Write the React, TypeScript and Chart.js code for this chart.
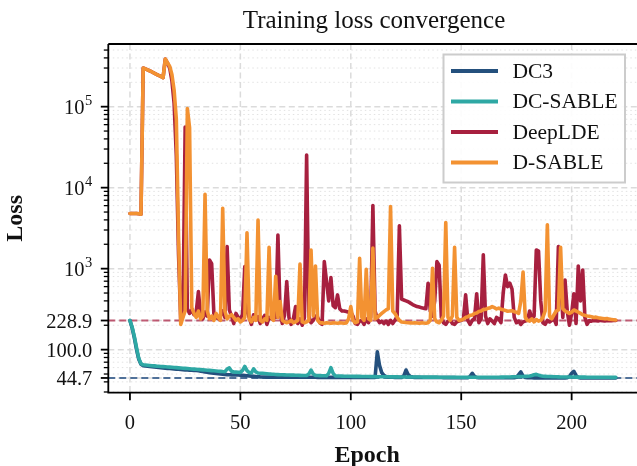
import React, { useEffect, useRef } from "react";
import { Chart, registerables } from "chart.js";

Chart.register(...registerables);

// ---------------- data ----------------
const epochs: number[] = Array.from({ length: 221 }, (_, i) => i);

const dc3: number[] = [
  229, 185, 140, 100, 76, 66, 63.5, 63, 62.5, 62,
  61.5, 61, 60.6, 60.2, 59.8, 59.4, 59, 58.7, 58.4, 58.1,
  57.8, 57.5, 57.2, 56.9, 56.6, 56.3, 56, 55.8, 55.6, 55.4,
  55.2, 54.8, 54.3, 53.7, 53.1, 52.5, 52, 51.5, 51, 50.7,
  50.4, 50.1, 49.8, 49.5, 49.2, 49, 48.8, 48.7, 48.6, 48.6,
  48.5, 48.3, 48, 47.7, 47.4, 47.1, 46.8, 46.5, 46.3, 46.1,
  46, 45.9, 45.8, 45.8, 45.8, 45.8, 45.8, 45.8, 45.8, 45.8,
  45.8, 45.8, 45.7, 45.7, 45.7, 45.7, 45.7, 45.7, 45.6, 45.6,
  45.6, 45.6, 45.6, 45.6, 45.6, 45.5, 45.5, 45.5, 45.5, 45.5,
  45.5, 45.5, 45.5, 45.4, 45.4, 45.4, 45.4, 45.4, 45.4, 45.4,
  45.4, 45.4, 45.3, 45.3, 45.3, 45.3, 45.3, 45.3, 45.3, 45.3,
  45.3, 45.4, 94, 64, 52, 48, 46.5, 46, 45.8, 45.6,
  45.5, 45.5, 45.4, 45.4, 47.5, 56, 49, 46.5, 45.8, 45.5,
  45.4, 45.4, 45.3, 45.3, 45.3, 45.3, 45.2, 45.2, 45.2, 45.2,
  45.2, 45.2, 45.1, 45.1, 45.1, 45.1, 45.1, 45.1, 45, 45,
  45, 45, 45, 45, 46.5, 51, 46.8, 45.3, 45, 45,
  45, 45, 44.9, 44.9, 44.9, 44.9, 44.9, 44.9, 44.9, 44.9,
  44.9, 44.9, 44.9, 44.9, 44.9, 45.5, 49, 53, 47, 45.2,
  44.9, 44.9, 44.9, 44.8, 44.8, 44.8, 44.8, 44.8, 44.8, 44.8,
  44.8, 44.8, 44.8, 44.8, 44.8, 44.8, 44.8, 44.8, 45, 46.5,
  51, 54, 48, 45.3, 44.8, 44.8, 44.8, 44.7, 44.7, 44.7,
  44.7, 44.7, 44.7, 44.7, 44.7, 44.7, 44.7, 44.7, 44.7, 44.7,
  44.7,
];

const dcSable: number[] = [
  229, 190, 145, 105, 78, 67, 65, 64.6, 64.2, 63.8,
  63.4, 63, 62.6, 62.3, 62, 61.7, 61.4, 61.1, 60.8, 60.5,
  60.2, 59.9, 59.6, 59.3, 59, 58.7, 58.4, 58.1, 57.8, 57.5,
  57.2, 56.9, 56.6, 56.3, 56, 55.7, 55.4, 55.1, 54.8, 54.5,
  54.2, 53.9, 53.6, 53.4, 57.5, 59.5, 54, 53, 52.8, 52.6,
  52.4, 55.5, 62, 55, 52, 51.8, 58, 53, 51.4, 51.2,
  51, 50.7, 50.4, 50.1, 49.8, 49.6, 49.4, 49.2, 49, 48.9,
  48.8, 48.7, 48.6, 48.5, 48.4, 48.3, 48.2, 48.1, 48, 48,
  48, 50, 56, 50, 48, 47.9, 47.8, 47.7, 47.6, 47.5,
  51, 60, 51, 47.4, 47.3, 47.2, 47.1, 47, 47, 46.9,
  46.9, 46.8, 46.8, 46.7, 46.7, 46.6, 46.6, 46.5, 46.5, 46.4,
  46.4, 46.4, 46.3, 46.3, 46.3, 46.2, 46.2, 46.2, 46.1, 46.1,
  46.1, 46.1, 46, 46, 46, 46, 46, 45.9, 45.9, 45.9,
  45.9, 45.9, 45.9, 45.8, 45.8, 45.8, 45.8, 45.8, 45.8, 45.8,
  45.7, 45.7, 45.7, 45.7, 45.7, 45.7, 45.7, 45.7, 45.7, 45.7,
  45.7, 45.7, 45.7, 45.7, 45.7, 45.7, 45.7, 45.7, 45.7, 45.7,
  45.7, 45.7, 45.7, 45.7, 45.7, 45.7, 45.7, 45.7, 45.8, 45.8,
  45.9, 46, 46, 46.1, 46.2, 46.3, 46.4, 46.5, 46.6, 46.8,
  47, 47.3, 48, 49, 49.5, 48.5, 47.5, 47, 46.8, 46.6,
  46.5, 46.4, 46.3, 46.2, 46.1, 46, 46, 46, 45.9, 45.9,
  45.9, 45.9, 45.8, 45.8, 45.8, 45.8, 45.8, 45.7, 45.7, 45.7,
  45.7, 45.7, 45.7, 45.6, 45.6, 45.6, 45.6, 45.6, 45.5, 45.5,
  45.5,
];

const deepLDE: number[] = [
  4800, 4800, 4800, 4800, 4750, 4700, 300000, 293000, 285000, 276000,
  268000, 259000, 251000, 243000, 236000, 228000, 388000, 345000, 300000, 210000,
  110000, 25000, 1500, 230, 260, 56000, 320, 280, 310, 270,
  290, 520, 270, 240, 290, 260, 1280, 1150, 280, 250,
  240, 265, 300, 250, 1870, 310, 260, 210, 280, 250,
  240, 270, 1060, 300, 250, 205, 270, 240, 255, 210,
  240, 265, 205, 250, 240, 300, 250, 2600, 280, 210,
  265, 692, 250, 205, 240, 340, 210, 240, 200, 250,
  25300, 260, 215, 230, 260, 250, 215, 205, 1220, 700,
  400, 776, 350, 330, 474, 320, 300, 300, 295, 290,
  290, 260, 210, 205, 225, 230, 205, 240, 215, 250,
  6000, 300, 240, 215, 225, 210, 225, 205, 230, 210,
  230, 260, 3370, 420, 410, 400, 390, 375, 360, 350,
  340, 335, 330, 325, 320, 660, 300, 260, 400, 1220,
  1100, 250, 215, 205, 225, 230, 210, 205, 220, 225,
  230, 240, 474, 230, 205, 230, 240, 490, 215, 240,
  1480, 260, 210, 240, 225, 210, 250, 240, 215, 500,
  836, 600, 660, 560, 250, 215, 225, 205, 220, 225,
  230, 300, 240, 260, 1700, 1650, 400, 215, 205, 230,
  220, 230, 240, 205, 1870, 700, 250, 725, 300, 200,
  280, 490, 210, 1080, 400, 964, 250, 205, 228, 225,
  230, 228, 226, 230, 228, 226, 229, 227, 228, 229,
  229,
];

const dSable: number[] = [
  4800, 4800, 4800, 4800, 4750, 4700, 300000, 293000, 285000, 276000,
  268000, 259000, 251000, 243000, 236000, 228000, 388000, 350000, 315000, 250000,
  160000, 70000, 2500, 205, 250, 300, 95000, 55000, 330, 280,
  250, 300, 240, 260, 8300, 300, 240, 260, 230, 280,
  250, 230, 5570, 300, 240, 260, 270, 250, 230, 240,
  220, 230, 250, 2780, 240, 220, 250, 230, 3990, 230,
  220, 240, 230, 1840, 250, 230, 807, 250, 392, 230,
  220, 215, 220, 230, 215, 220, 230, 1140, 220, 215,
  220, 230, 1700, 260, 1080, 230, 215, 214, 212, 214,
  213, 212, 214, 213, 212, 214, 213, 212, 214, 240,
  340, 230, 215, 220, 1340, 250, 230, 980, 240, 230,
  1790, 240, 250, 265, 280, 295, 310, 320, 5830, 300,
  280, 250, 230, 220, 218, 216, 215, 214, 213, 214,
  213, 212, 214, 213, 212, 215, 230, 1010, 240, 220,
  215, 230, 260, 3700, 250, 230, 260, 1840, 250, 230,
  232, 238, 250, 255, 265, 268, 280, 284, 296, 300,
  312, 315, 324, 328, 340, 330, 318, 326, 316, 310,
  305, 298, 300, 302, 294, 290, 280, 400, 908, 250,
  230, 225, 240, 220, 235, 225, 230, 250, 300, 3470,
  260, 240, 270, 300, 310, 1840, 320, 300, 290, 280,
  290, 309, 300, 290, 280, 270, 265, 260, 258, 255,
  250, 252, 248, 245, 243, 240, 242, 238, 236, 234,
  232,
];

const seriesNames: string[] = ["DC3", "DC-SABLE", "DeepLDE", "D-SABLE"];
const seriesColors: string[] = ["#24507d", "#2ea8a4", "#a7203f", "#f39232"];

const xTicks: number[] = [0, 50, 100, 150, 200];
const yPowerTicks: number[] = [1000, 10000, 100000];
const yPowerExps: string[] = ["3", "4", "5"];
const yRefTicks: number[] = [44.7, 100, 228.9];
const yRefLabels: string[] = ["44.7", "100.0", "228.9"];
const refLines: number[] = [228.9, 44.7];
const refLineColors: string[] = ["rgba(178,52,84,0.8)", "rgba(52,90,138,0.85)"];

const titleText = "Training loss convergence";
const xTitle = "Epoch";
const yTitle = "Loss";

const X_MIN = -9.8;
const X_MAX = 230.95;
const Y_MIN = 29.4;
const Y_MAX = 594000;

const SERIF = "'Liberation Serif', 'Times New Roman', Times, serif";

// ---------------- decoration plugin ----------------
const decorPlugin = {
  id: "decor",
  beforeDatasetsDraw(chart: any) {
    const { ctx, chartArea: a } = chart;
    const xs = chart.scales.x;
    const ys = chart.scales.y;
    ctx.save();
    ctx.beginPath();
    ctx.rect(a.left, a.top, a.right - a.left, a.bottom - a.top);
    ctx.clip();
    // minor y grid (dotted)
    ctx.strokeStyle = "#e2e2e2";
    ctx.lineWidth = 1;
    ctx.setLineDash([1.5, 3]);
    for (let k = 1; k <= 5; k++) {
      for (let m = 2; m <= 9; m++) {
        const v = m * Math.pow(10, k);
        if (v < Y_MIN || v > Y_MAX) continue;
        const y = ys.getPixelForValue(v);
        ctx.beginPath();
        ctx.moveTo(a.left, y);
        ctx.lineTo(a.right, y);
        ctx.stroke();
      }
    }
    // major grid (dashed)
    ctx.strokeStyle = "#dbdbdb";
    ctx.lineWidth = 1.5;
    ctx.setLineDash([6, 3.5]);
    [...yPowerTicks, ...yRefTicks].forEach((v) => {
      const y = ys.getPixelForValue(v);
      ctx.beginPath();
      ctx.moveTo(a.left, y);
      ctx.lineTo(a.right, y);
      ctx.stroke();
    });
    xTicks.forEach((v) => {
      const x = xs.getPixelForValue(v);
      ctx.beginPath();
      ctx.moveTo(x, a.top);
      ctx.lineTo(x, a.bottom);
      ctx.stroke();
    });
    // reference lines
    ctx.lineWidth = 2;
    ctx.setLineDash([7, 4]);
    refLines.forEach((v, i) => {
      const y = ys.getPixelForValue(v);
      ctx.strokeStyle = refLineColors[i];
      ctx.beginPath();
      ctx.moveTo(a.left, y);
      ctx.lineTo(a.right, y);
      ctx.stroke();
    });
    ctx.restore();
  },
  afterDatasetsDraw(chart: any) {
    const { ctx } = chart;
    // legend
    ctx.save();
    const bx = 443.5, by = 54.5, bw = 181.5, bh = 128;
    ctx.fillStyle = "rgba(255,255,255,0.92)";
    ctx.fillRect(bx, by, bw, bh);
    ctx.strokeStyle = "#cccccc";
    ctx.lineWidth = 2;
    ctx.setLineDash([]);
    ctx.strokeRect(bx, by, bw, bh);
    const rows = [71, 101.5, 132, 162.5];
    ctx.font = `21.5px ${SERIF}`;
    ctx.textBaseline = "middle";
    ctx.textAlign = "left";
    chart.data.datasets.forEach((ds: any, i: number) => {
      const y = rows[i];
      ctx.strokeStyle = ds.borderColor;
      ctx.lineWidth = 3.8;
      ctx.lineCap = "butt";
      ctx.beginPath();
      ctx.moveTo(451, y);
      ctx.lineTo(498, y);
      ctx.stroke();
      ctx.fillStyle = "#111";
      ctx.fillText(ds.label, 512.5, y + 1);
    });
    ctx.restore();
  },
  afterDraw(chart: any) {
    const { ctx, chartArea: a } = chart;
    const xs = chart.scales.x;
    const ys = chart.scales.y;
    ctx.save();
    ctx.setLineDash([]);
    ctx.strokeStyle = "#000";
    // spines
    ctx.lineWidth = 1.8;
    ctx.beginPath();
    ctx.moveTo(a.left, a.top);
    ctx.lineTo(a.left, a.bottom);
    ctx.lineTo(a.right, a.bottom);
    ctx.moveTo(a.left, a.top);
    ctx.lineTo(a.right, a.top);
    ctx.lineTo(a.right, a.bottom);
    ctx.stroke();
    // y minor ticks
    ctx.lineWidth = 1.3;
    for (let k = 1; k <= 5; k++) {
      for (let m = 2; m <= 9; m++) {
        const v = m * Math.pow(10, k);
        if (v < Y_MIN || v > Y_MAX) continue;
        const y = ys.getPixelForValue(v);
        ctx.beginPath();
        ctx.moveTo(a.left, y);
        ctx.lineTo(a.left - 4.5, y);
        ctx.stroke();
      }
    }
    // y major ticks
    ctx.lineWidth = 1.8;
    [...yPowerTicks, ...yRefTicks].forEach((v) => {
      const y = ys.getPixelForValue(v);
      ctx.beginPath();
      ctx.moveTo(a.left, y);
      ctx.lineTo(a.left - 7.5, y);
      ctx.stroke();
    });
    // x major ticks
    xTicks.forEach((v) => {
      const x = xs.getPixelForValue(v);
      ctx.beginPath();
      ctx.moveTo(x, a.bottom);
      ctx.lineTo(x, a.bottom + 7.5);
      ctx.stroke();
    });
    // tick labels
    ctx.fillStyle = "#111";
    const labelRight = a.left - 16;
    yPowerTicks.forEach((v, i) => {
      const y = ys.getPixelForValue(v);
      ctx.font = `14.5px ${SERIF}`;
      const ew = ctx.measureText(yPowerExps[i]).width;
      ctx.font = `20.5px ${SERIF}`;
      ctx.textAlign = "right";
      ctx.textBaseline = "alphabetic";
      ctx.fillText("10", labelRight - ew - 0.5, y + 7);
      ctx.font = `14.5px ${SERIF}`;
      ctx.textAlign = "right";
      ctx.fillText(yPowerExps[i], labelRight, y - 1.5);
    });
    ctx.font = `20.5px ${SERIF}`;
    ctx.textAlign = "right";
    ctx.textBaseline = "alphabetic";
    yRefTicks.forEach((v, i) => {
      const y = ys.getPixelForValue(v);
      ctx.fillText(yRefLabels[i], labelRight, y + 7);
    });
    ctx.font = `20.5px ${SERIF}`;
    ctx.textAlign = "center";
    xTicks.forEach((v) => {
      const x = xs.getPixelForValue(v);
      ctx.fillText(String(v), x, 429);
    });
    // axis titles
    ctx.font = `bold 24px ${SERIF}`;
    ctx.textAlign = "center";
    ctx.fillText(xTitle, (a.left + a.right) / 2 - 7, 462);
    ctx.save();
    ctx.translate(22, (a.top + a.bottom) / 2);
    ctx.rotate(-Math.PI / 2);
    ctx.fillText(yTitle, 0, 0);
    ctx.restore();
    // title
    ctx.font = `25px ${SERIF}`;
    ctx.textAlign = "center";
    ctx.fillText(titleText, 374, 28);
    ctx.restore();
  },
};

export default function App() {
  const canvasRef = useRef<HTMLCanvasElement | null>(null);

  useEffect(() => {
    const canvas = canvasRef.current;
    if (!canvas) return;
    const seriesData = [dc3, dcSable, deepLDE, dSable];
    const orders = [3, 2, 1, 0];
    const chart = new Chart(canvas, {
      type: "line",
      data: {
        labels: epochs,
        datasets: seriesNames.map((name, i) => ({
          label: name,
          data: seriesData[i],
          borderColor: seriesColors[i],
          backgroundColor: seriesColors[i],
          borderWidth: 3.6,
          pointRadius: 0,
          tension: 0,
          fill: false,
          borderJoinStyle: "round" as const,
          borderCapStyle: "round" as const,
          order: orders[i],
        })),
      },
      options: {
        animation: false,
        responsive: false,
        devicePixelRatio: 1,
        layout: { padding: { top: 44, right: 5, left: 0, bottom: 0 } },
        plugins: {
          legend: { display: false },
          title: { display: false },
          tooltip: { enabled: false },
        },
        scales: {
          x: {
            type: "linear",
            min: X_MIN,
            max: X_MAX,
            grid: { display: false, drawTicks: false },
            border: { display: false },
            ticks: { display: false },
            afterFit: (s: any) => {
              s.height = 466 - 392.7;
            },
          },
          y: {
            type: "logarithmic",
            min: Y_MIN,
            max: Y_MAX,
            grid: { display: false, drawTicks: false },
            border: { display: false },
            ticks: { display: false },
            afterFit: (s: any) => {
              s.width = 108.3;
            },
          },
        },
      },
      plugins: [decorPlugin],
    });
    return () => chart.destroy();
  }, []);

  return (
    <div
      style={{
        position: "fixed",
        left: 0,
        top: 0,
        width: 637,
        height: 466,
        overflow: "hidden",
        background: "#fff",
      }}
    >
      <canvas ref={canvasRef} width={645} height={466} style={{ display: "block" }} />
    </div>
  );
}
